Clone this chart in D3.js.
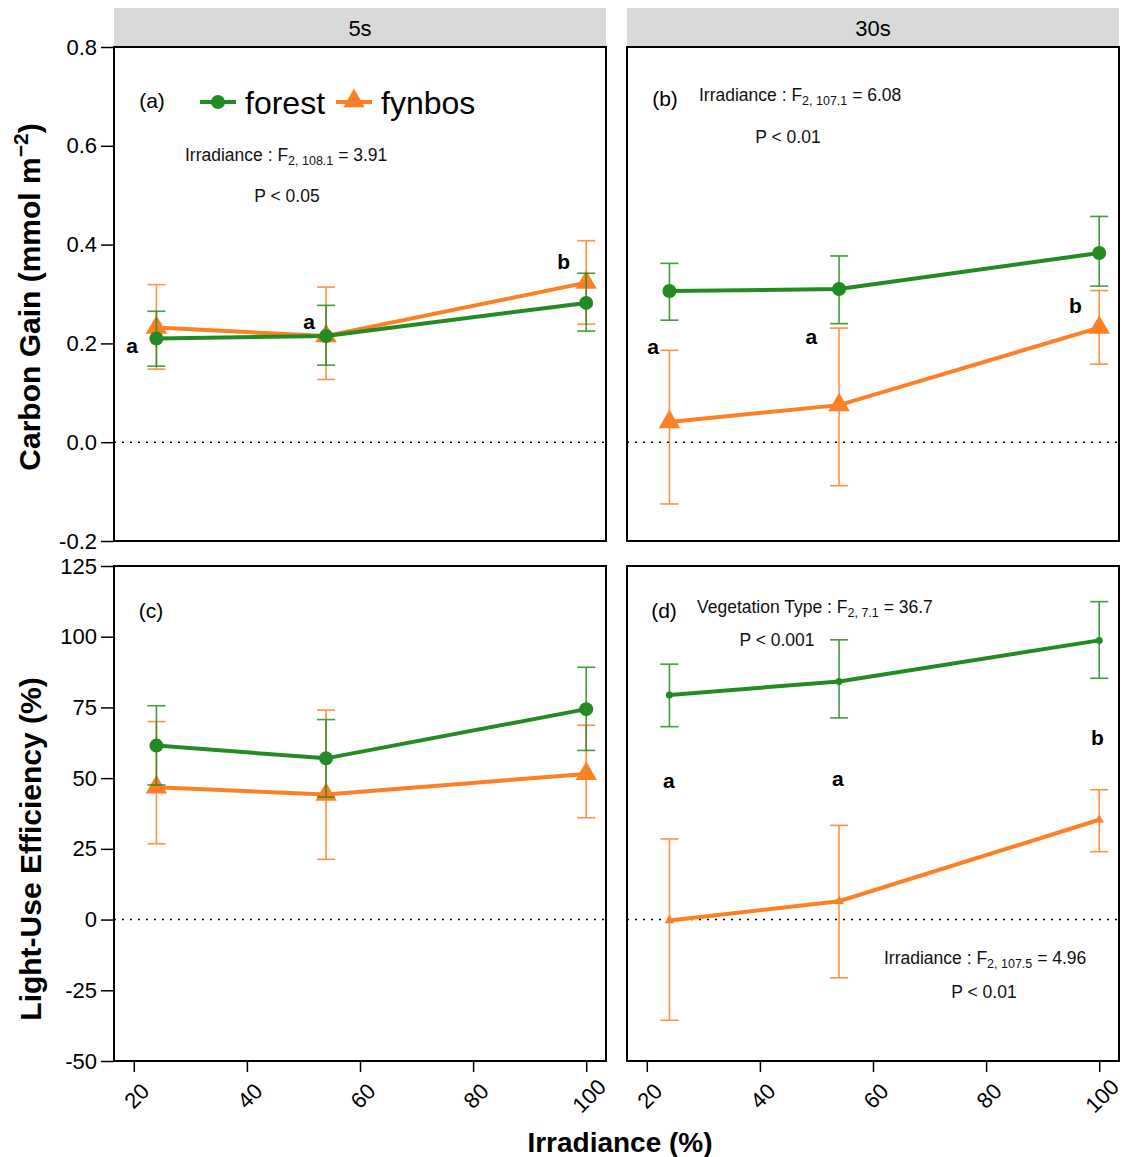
<!DOCTYPE html>
<html lang="en">
<head>
<meta charset="utf-8">
<script src="https://cdnjs.cloudflare.com/ajax/libs/d3/7.8.5/d3.min.js"></script>
<style>
  body { margin: 0; background: #fff; }
  svg { font-family: "Liberation Sans", Arial, sans-serif; }
</style>
</head>
<body>
<svg id="chart" width="1123" height="1157"></svg>
<script>
// ---- data ----
const irradiance = [24, 54, 100];
const xTicks = [20, 40, 60, 80, 100];
const durations = ["5s", "30s"];
const cgTicks = [-0.2, 0, 0.2, 0.4, 0.6, 0.8];
const lueTicks = [-50, -25, 0, 25, 50, 75, 100, 125];

// carbon gain, 5 s
const cg5Forest   = [0.210, 0.215, 0.282];
const cg5ForestLo = [0.154, 0.156, 0.225];
const cg5ForestHi = [0.265, 0.277, 0.342];
const cg5Fynbos   = [0.232, 0.215, 0.323];
const cg5FynbosLo = [0.148, 0.127, 0.239];
const cg5FynbosHi = [0.319, 0.314, 0.408];

// carbon gain, 30 s
const cg30Forest   = [0.306, 0.310, 0.383];
const cg30ForestLo = [0.247, 0.240, 0.316];
const cg30ForestHi = [0.362, 0.377, 0.457];
const cg30Fynbos   = [0.041, 0.075, 0.232];
const cg30FynbosLo = [-0.125, -0.088, 0.158];
const cg30FynbosHi = [0.186, 0.231, 0.307];

// light-use efficiency, 5 s
const lue5Forest   = [61.5, 57.0, 74.4];
const lue5ForestLo = [47.6, 43.3, 59.8];
const lue5ForestHi = [75.6, 70.7, 89.2];
const lue5Fynbos   = [46.8, 44.2, 51.5];
const lue5FynbosLo = [26.8, 21.3, 36.0];
const lue5FynbosHi = [70.0, 74.1, 68.7];

// light-use efficiency, 30 s
const lue30Forest   = [79.4, 84.2, 98.7];
const lue30ForestLo = [68.2, 71.3, 85.3];
const lue30ForestHi = [90.3, 98.9, 112.4];
const lue30Fynbos   = [-0.3, 6.5, 35.3];
const lue30FynbosLo = [-35.6, -20.6, 24.0];
const lue30FynbosHi = [28.5, 33.3, 45.9];

// post-hoc letters (label, x, y in data units)
const lettersA = [["a", 19.7, 0.195], ["a", 51.0, 0.245], ["b", 96.0, 0.365]];
const lettersB = [["a", 21.1, 0.193], ["a", 49.1, 0.213], ["b", 95.8, 0.276]];
const lettersD = [["a", 23.9, 49.3], ["a", 53.8, 50.0], ["b", 99.7, 64.2]];

const green = "#228b22";
const orange = "#ff7f24";

const svg = d3.select("#chart");

const cols = [[114, 606], [627, 1119]];
const rows = [[47, 541], [566, 1061]];

const yTop = d3.scaleLinear().domain([-0.2, 0.8]).range([rows[0][1], rows[0][0]]);
const yBot = d3.scaleLinear().domain([-50, 125]).range([rows[1][1], rows[1][0]]);
const xs = cols.map(c => d3.scaleLinear().domain([16.5, 103.5]).range(c));

const panels = [
  {tag: "(a)", col: 0, row: 0, y: yTop, small: false,
   forest: [cg5Forest, cg5ForestLo, cg5ForestHi], fynbos: [cg5Fynbos, cg5FynbosLo, cg5FynbosHi],
   letters: lettersA, tagPos: [38, 53],
   stats: [{x: 71, y: 114, label: "Irradiance : F", sub: "2, 108.1", val: " = 3.91", p: "P < 0.05", px: 173, py: 155}]},
  {tag: "(b)", col: 1, row: 0, y: yTop, small: false,
   forest: [cg30Forest, cg30ForestLo, cg30ForestHi], fynbos: [cg30Fynbos, cg30FynbosLo, cg30FynbosHi],
   letters: lettersB, tagPos: [38, 51],
   stats: [{x: 72, y: 54, label: "Irradiance : F", sub: "2, 107.1", val: " = 6.08", p: "P < 0.01", px: 161, py: 96}]},
  {tag: "(c)", col: 0, row: 1, y: yBot, small: false,
   forest: [lue5Forest, lue5ForestLo, lue5ForestHi], fynbos: [lue5Fynbos, lue5FynbosLo, lue5FynbosHi],
   letters: [], tagPos: [37, 44], stats: []},
  {tag: "(d)", col: 1, row: 1, y: yBot, small: true,
   forest: [lue30Forest, lue30ForestLo, lue30ForestHi], fynbos: [lue30Fynbos, lue30FynbosLo, lue30FynbosHi],
   letters: lettersD, tagPos: [37, 44],
   stats: [{x: 70, y: 47, label: "Vegetation Type : F", sub: "2, 7.1", val: " = 36.7", p: "P < 0.001", px: 150, py: 80},
           {x: 257, y: 398, label: "Irradiance : F", sub: "2, 107.5", val: " = 4.96", p: "P < 0.01", px: 357, py: 432}]}
];

function triPath(size) {
  return d3.symbol().type(d3.symbolTriangle).size(size)();
}

function drawSeries(g, x, y, vals, color, shape, small) {
  const [mean, lo, hi] = vals;
  const pts = irradiance.map((v, i) => ({x: v, m: mean[i], lo: lo[i], hi: hi[i]}));
  const eb = g.append("g").attr("stroke", color).attr("stroke-width", 1.6).attr("opacity", 0.85);
  pts.forEach(d => {
    eb.append("line").attr("x1", x(d.x)).attr("x2", x(d.x)).attr("y1", y(d.lo)).attr("y2", y(d.hi));
    [d.lo, d.hi].forEach(v => eb.append("line")
      .attr("x1", x(d.x) - 9).attr("x2", x(d.x) + 9).attr("y1", y(v)).attr("y2", y(v)));
  });
  g.append("path").datum(pts)
    .attr("fill", "none").attr("stroke", color).attr("stroke-width", 4)
    .attr("d", d3.line().x(d => x(d.x)).y(d => y(d.m)));
  pts.forEach(d => {
    if (shape === "circle") {
      g.append("circle").attr("cx", x(d.x)).attr("cy", y(d.m)).attr("r", small ? 3.5 : 7).attr("fill", color);
    } else {
      g.append("path").attr("d", triPath(small ? 40 : 200))
        .attr("transform", `translate(${x(d.x)},${y(d.m)})`).attr("fill", color);
    }
  });
}

function statText(g, x, y, label, sub, val) {
  const t = g.append("text").attr("x", x).attr("y", y).attr("font-size", 17.5).attr("fill", "#111");
  t.append("tspan").text(label);
  t.append("tspan").text(sub).attr("font-size", 12.5).attr("dy", 4);
  t.append("tspan").text(val).attr("dy", -4);
}

const fmtTop = v => (v < 0 ? "-" : "") + d3.format(".1f")(Math.abs(v));
const fmtBot = v => (v < 0 ? "-" : "") + d3.format("d")(Math.abs(v));

panels.forEach(p => {
  const x = xs[p.col];
  const y = p.y;
  const [x0, x1] = cols[p.col];
  const [y0, y1] = rows[p.row];
  const g = svg.append("g");

  // zero reference line
  g.append("line").attr("x1", x0).attr("x2", x1).attr("y1", y(0)).attr("y2", y(0))
    .attr("stroke", "#000").attr("stroke-width", 1.5).attr("stroke-dasharray", "2,6");

  drawSeries(g, x, y, p.fynbos, orange, "triangle", p.small);
  drawSeries(g, x, y, p.forest, green, "circle", p.small);

  g.append("rect").attr("x", x0).attr("y", y0).attr("width", x1 - x0).attr("height", y1 - y0)
    .attr("fill", "none").attr("stroke", "#000").attr("stroke-width", 2);

  g.append("text").attr("x", x0 + p.tagPos[0]).attr("y", y0 + p.tagPos[1]).attr("font-size", 21)
    .attr("text-anchor", "middle").attr("dominant-baseline", "central").text(p.tag);

  p.letters.forEach(l => {
    g.append("text").attr("x", x(l[1])).attr("y", y(l[2])).attr("font-size", 21).attr("font-weight", "bold")
      .attr("text-anchor", "middle").attr("dominant-baseline", "central").text(l[0]);
  });

  p.stats.forEach(s => {
    statText(g, x0 + s.x, y0 + s.y, s.label, s.sub, s.val);
    g.append("text").attr("x", x0 + s.px).attr("y", y0 + s.py).attr("font-size", 17.5).attr("fill", "#111")
      .attr("text-anchor", "middle").text(s.p);
  });

  // y axis on left column
  if (p.col === 0) {
    const ax = d3.axisLeft(y).tickValues(p.row === 0 ? cgTicks : lueTicks)
      .tickSize(13).tickPadding(4)
      .tickFormat(p.row === 0 ? fmtTop : fmtBot);
    const ag = svg.append("g").attr("transform", `translate(${x0},0)`).call(ax);
    ag.select(".domain").remove();
    ag.selectAll(".tick line").attr("stroke-width", 1.5);
    ag.selectAll("text").attr("font-size", 22).attr("font-family", "Liberation Sans, Arial, sans-serif");
  }

  // x axis on bottom row
  if (p.row === 1) {
    const ax = d3.axisBottom(x).tickValues(xTicks).tickSize(11).tickFormat("");
    const ag = svg.append("g").attr("transform", `translate(0,${y1})`).call(ax);
    ag.select(".domain").remove();
    ag.selectAll(".tick line").attr("stroke-width", 1.5);
    xTicks.forEach(t => {
      svg.append("text").attr("transform", `translate(${x(t) + 3},${y1 + 35}) rotate(-45)`)
        .attr("font-size", 22).attr("text-anchor", "middle").attr("dominant-baseline", "central").text(t);
    });
  }
});

// strip headers
durations.forEach((d, i) => {
  const [x0, x1] = cols[i];
  svg.append("rect").attr("x", x0).attr("y", 8).attr("width", x1 - x0).attr("height", 38).attr("fill", "#d9d9d9");
  svg.append("text").attr("x", (x0 + x1) / 2).attr("y", 28).attr("font-size", 22)
    .attr("text-anchor", "middle").attr("dominant-baseline", "central").text(d);
});

// legend in panel (a)
const lg = svg.append("g");
const legendItems = [
  {name: "forest", color: green, shape: "circle", x: 200},
  {name: "fynbos", color: orange, shape: "triangle", x: 336}
];
legendItems.forEach(it => {
  lg.append("line").attr("x1", it.x).attr("x2", it.x + 36).attr("y1", 102).attr("y2", 102)
    .attr("stroke", it.color).attr("stroke-width", 4);
  if (it.shape === "circle") {
    lg.append("circle").attr("cx", it.x + 18).attr("cy", 102).attr("r", 7).attr("fill", it.color);
  } else {
    lg.append("path").attr("d", triPath(200)).attr("transform", `translate(${it.x + 18},101)`).attr("fill", it.color);
  }
  lg.append("text").attr("x", it.x + 45).attr("y", 103).attr("font-size", 32)
    .attr("dominant-baseline", "central").text(it.name);
});

// axis titles
const ylab1 = svg.append("text").attr("transform", "translate(40,297) rotate(-90)")
  .attr("font-size", 30).attr("font-weight", "bold").attr("text-anchor", "middle");
ylab1.append("tspan").text("Carbon Gain (mmol m");
ylab1.append("tspan").text("\u22122").attr("font-size", 21).attr("dy", -12);
ylab1.append("tspan").text(")").attr("dy", 12);

svg.append("text").attr("transform", "translate(41,849) rotate(-90)")
  .attr("font-size", 30).attr("font-weight", "bold").attr("text-anchor", "middle")
  .text("Light-Use Efficiency (%)");

svg.append("text").attr("x", 620).attr("y", 1152).attr("font-size", 28).attr("font-weight", "bold")
  .attr("text-anchor", "middle").text("Irradiance (%)");
</script>
</body>
</html>
